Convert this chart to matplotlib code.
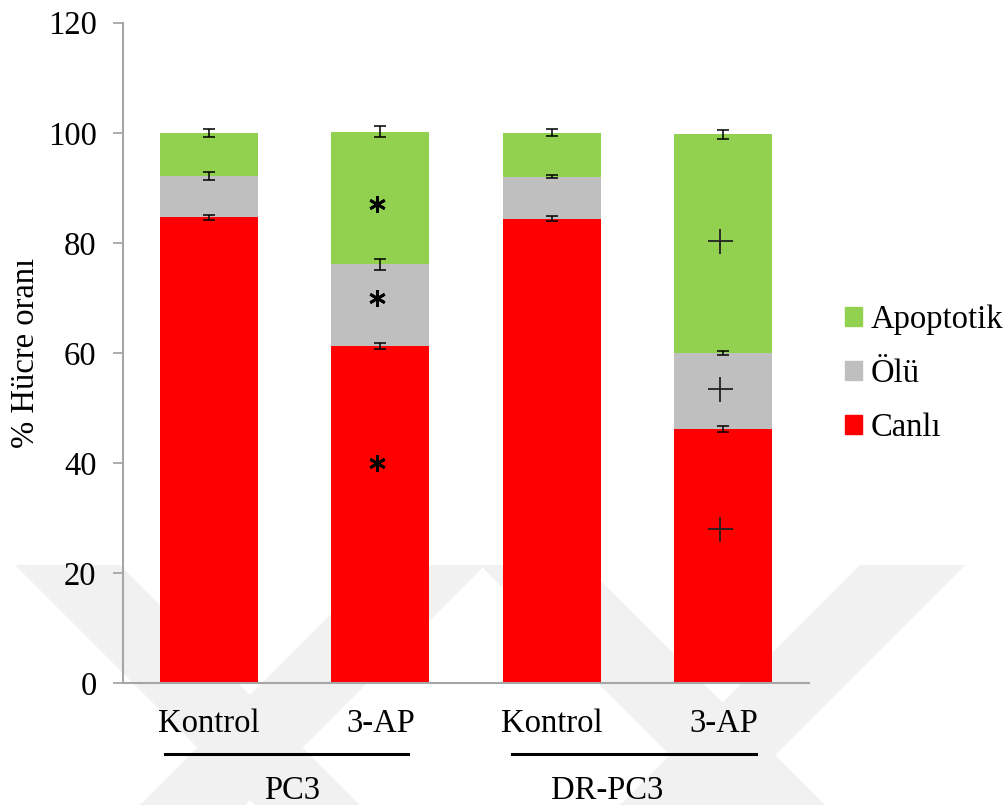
import matplotlib
matplotlib.use("Agg")
import matplotlib.pyplot as plt
from matplotlib.patches import Patch, Polygon
from matplotlib.transforms import blended_transform_factory
import numpy as np

# Data
categories = ["Kontrol", "3-AP", "Kontrol", "3-AP"]
groups = ["PC3", "DR-PC3"]
canli = [84.6, 61.2, 84.4, 46.2]
olu = [7.6, 14.9, 7.6, 13.8]
apoptotik = [7.8, 24.1, 8.0, 39.7]
canli_err = [0.4, 0.5, 0.5, 0.5]
olu_err = [0.7, 1.0, 0.3, 0.3]
apoptotik_err = [0.7, 1.05, 0.65, 0.8]
# significance markers
sig_star_y = [87.1, 69.9, 39.9]      # PC3 3-AP
sig_plus_y = [80.4, 53.4, 28.0]      # DR-PC3 3-AP
yticks = [0, 20, 40, 60, 80, 100, 120]

GREEN = "#92D050"
GRAY = "#BFBFBF"
RED = "#FF0000"
AXIS = "#A6A6A6"
FS = 23.5

plt.rcParams["font.family"] = ["Liberation Serif", "DejaVu Serif"]

W, H = 1005, 805
fig = plt.figure(figsize=(W / 100, H / 100), dpi=100)

# faint diagonal background stripes (thesis watermark)
def px(x, y):
    return (x / W, 1 - y / H)

stripes = [
    [(15, 565), (120, 565), (360, 805), (255, 805)],
    [(380, 565), (485, 565), (245, 805), (140, 805)],
    [(480, 565), (585, 565), (825, 805), (720, 805)],
    [(860, 565), (965, 565), (725, 805), (620, 805)],
]
for s in stripes:
    fig.patches.append(Polygon([px(*p) for p in s], closed=True,
                               transform=fig.transFigure, facecolor="#F1F1F1",
                               edgecolor="none", zorder=-5))

ax = fig.add_axes([123 / W, 1 - 683 / H, (809 - 123) / W, (683 - 22.7) / H])
ax.patch.set_alpha(0)

x = np.arange(len(categories))
bw = 0.57
bottom2 = np.array(canli) + np.array(olu)
ax.bar(x, canli, bw, color=RED, zorder=2, label="Canlı")
ax.bar(x, olu, bw, bottom=canli, color=GRAY, zorder=2, label="Ölü")
ax.bar(x, apoptotik, bw, bottom=bottom2, color=GREEN, zorder=2, label="Apoptotik")

ekw = dict(fmt="none", ecolor="black", elinewidth=1.1, capsize=4.5, capthick=1.1, zorder=3)
ax.errorbar(x, canli, yerr=canli_err, **ekw)
ax.errorbar(x, bottom2, yerr=olu_err, **ekw)
ax.errorbar(x, bottom2 + np.array(apoptotik), yerr=apoptotik_err, **ekw)

ax.plot([x[1] - 0.02] * len(sig_star_y), sig_star_y, linestyle="none",
        marker=(6, 2, 0), markersize=12, markeredgewidth=2.0, color="black", zorder=4)
ax.plot([x[3] - 0.02] * len(sig_plus_y), sig_plus_y, linestyle="none",
        marker="+", markersize=18, markeredgewidth=1.3, color="#222222", zorder=4)

ax.set_xlim(-0.5, 3.5)
ax.set_ylim(0, 120)
ax.set_yticks(yticks)
ax.tick_params(axis="y", direction="out", length=7, width=1.3, color=AXIS,
               labelsize=FS, pad=12)
ax.set_xticks([])
for side in ("top", "right"):
    ax.spines[side].set_visible(False)
for side in ("left", "bottom"):
    ax.spines[side].set_color(AXIS)
    ax.spines[side].set_linewidth(1.5)

ax.set_ylabel("% Hücre oranı", fontsize=FS)
ax.yaxis.set_label_coords(-0.119, 0.5)

# category and group labels below the axis
tr = blended_transform_factory(ax.transData, fig.transFigure)
for xi, lab in zip(x, categories):
    ax.text(xi, 1 - 732 / H, lab, transform=tr, ha="center", va="baseline",
            fontsize=FS, clip_on=False)
group_lines = [(-0.257, 1.16), (1.771, 3.19)]
group_text_x = [0.485, 2.32]
for (x0, x1), gx, g in zip(group_lines, group_text_x, groups):
    ax.plot([x0, x1], [1 - 754 / H] * 2, transform=tr, color="black",
            linewidth=2.2, clip_on=False)
    ax.text(gx, 1 - 799 / H, g, transform=tr, ha="center", va="baseline",
            fontsize=FS, clip_on=False)

handles = [Patch(color=GREEN), Patch(color=GRAY), Patch(color=RED)]
labels = ["Apoptotik", "Ölü", "Canlı"]
fig.legend(handles, labels, loc="center left", bbox_to_anchor=(845 / W, 1 - 374 / H),
           frameon=False, fontsize=FS, handlelength=0.52, handleheight=0.52,
           handletextpad=0.25, labelspacing=0.72, borderpad=0, borderaxespad=0)

fig.savefig("out.png", dpi=100)
